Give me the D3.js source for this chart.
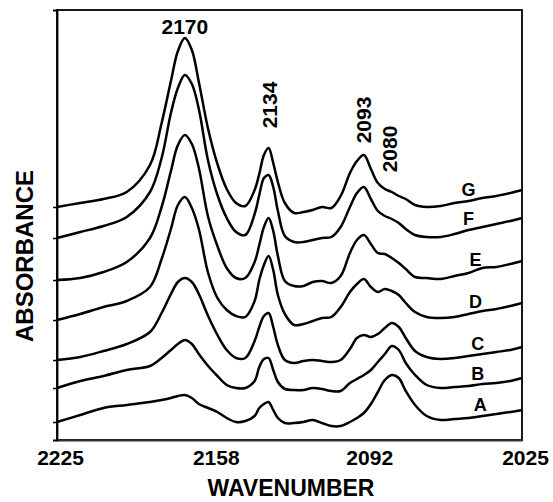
<!DOCTYPE html>
<html>
<head>
<meta charset="utf-8">
<script src="https://cdn.jsdelivr.net/npm/d3@7"></script>
<style>
  html, body { margin: 0; padding: 0; background: #fff; }
  svg { display: block; }
  text { font-family: "Liberation Sans", Arial, sans-serif; font-weight: bold; fill: #000; }
</style>
</head>
<body>
<svg id="chart" width="553" height="502"></svg>
<script>
// ---- data ----
const wavenumbers = [2225, 2215, 2205, 2195, 2185, 2180, 2176, 2173, 2170, 2167,
  2164, 2160, 2156, 2152, 2148, 2144, 2140, 2138, 2136, 2134,
  2132, 2130, 2127, 2123, 2119, 2115, 2111, 2107, 2103, 2099,
  2096, 2093, 2090, 2087, 2084, 2081, 2078, 2075, 2071, 2066,
  2060, 2054, 2048, 2042, 2036, 2030, 2025];

const seriesG = [2.33, 2.37, 2.41, 2.48, 2.75, 3.17, 3.59, 3.89, 4.02, 3.90,
  3.58, 3.11, 2.76, 2.51, 2.37, 2.34, 2.50, 2.66, 2.85, 2.92,
  2.77, 2.58, 2.37, 2.27, 2.28, 2.30, 2.33, 2.32, 2.44, 2.67,
  2.79, 2.85, 2.71, 2.57, 2.51, 2.48, 2.44, 2.41, 2.35, 2.33,
  2.34, 2.37, 2.39, 2.42, 2.44, 2.47, 2.50];
const seriesF = [2.02, 2.08, 2.14, 2.23, 2.48, 2.82, 3.27, 3.52, 3.65, 3.56,
  3.31, 2.79, 2.45, 2.22, 2.08, 2.05, 2.26, 2.45, 2.62, 2.65,
  2.53, 2.29, 2.04, 1.98, 1.98, 2.00, 2.02, 2.03, 2.13, 2.33,
  2.47, 2.53, 2.41, 2.29, 2.24, 2.21, 2.17, 2.11, 2.05, 2.03,
  2.03, 2.06, 2.10, 2.13, 2.16, 2.19, 2.22];
const seriesE = [1.60, 1.62, 1.68, 1.78, 2.02, 2.33, 2.69, 2.95, 3.05, 2.96,
  2.72, 2.23, 1.94, 1.72, 1.62, 1.62, 1.78, 1.95, 2.13, 2.22,
  2.09, 1.84, 1.59, 1.54, 1.54, 1.58, 1.59, 1.57, 1.64, 1.87,
  2.00, 2.05, 1.96, 1.87, 1.86, 1.82, 1.77, 1.71, 1.63, 1.62,
  1.61, 1.64, 1.67, 1.72, 1.73, 1.76, 1.79];
const seriesD = [1.20, 1.26, 1.33, 1.39, 1.53, 1.81, 2.11, 2.35, 2.43, 2.32,
  2.11, 1.67, 1.42, 1.30, 1.24, 1.23, 1.39, 1.60, 1.75, 1.84,
  1.70, 1.45, 1.26, 1.15, 1.16, 1.19, 1.22, 1.23, 1.33, 1.48,
  1.56, 1.61, 1.53, 1.48, 1.51, 1.49, 1.45, 1.37, 1.28, 1.23,
  1.22, 1.23, 1.26, 1.29, 1.31, 1.34, 1.37];
const seriesC = [0.80, 0.83, 0.89, 0.96, 1.08, 1.27, 1.46, 1.58, 1.62, 1.58,
  1.46, 1.24, 1.05, 0.90, 0.82, 0.82, 0.99, 1.13, 1.24, 1.27,
  1.13, 0.95, 0.80, 0.77, 0.79, 0.80, 0.79, 0.78, 0.80, 0.91,
  1.02, 1.05, 1.03, 1.06, 1.12, 1.17, 1.13, 1.02, 0.89, 0.83,
  0.81, 0.82, 0.84, 0.86, 0.88, 0.90, 0.93];
const seriesB = [0.52, 0.59, 0.64, 0.70, 0.74, 0.82, 0.90, 0.96, 1.00, 0.96,
  0.86, 0.74, 0.64, 0.55, 0.52, 0.52, 0.59, 0.73, 0.81, 0.82,
  0.70, 0.58, 0.51, 0.50, 0.50, 0.52, 0.51, 0.49, 0.49, 0.57,
  0.61, 0.65, 0.70, 0.78, 0.86, 0.94, 0.90, 0.77, 0.65, 0.55,
  0.52, 0.53, 0.54, 0.56, 0.57, 0.59, 0.62];
const seriesA = [0.18, 0.25, 0.32, 0.35, 0.38, 0.40, 0.42, 0.44, 0.45, 0.42,
  0.36, 0.32, 0.28, 0.22, 0.18, 0.19, 0.24, 0.32, 0.36, 0.38,
  0.30, 0.22, 0.17, 0.17, 0.18, 0.20, 0.17, 0.14, 0.14, 0.18,
  0.22, 0.27, 0.36, 0.48, 0.60, 0.65, 0.62, 0.49, 0.35, 0.24,
  0.20, 0.21, 0.22, 0.24, 0.26, 0.28, 0.30];

const seriesNames = ["A", "B", "C", "D", "E", "F", "G"];
const seriesValues = [seriesA, seriesB, seriesC, seriesD, seriesE, seriesF, seriesG];
const labelWavenumbers = [2043, 2044, 2044, 2045, 2045, 2048, 2048];

const xTicks = [2225, 2158, 2092, 2025];
const peakLabels = ["2170", "2134", "2093", "2080"];
const peakWavenumbers = [2170, 2134, 2093, 2081];

// ---- layout ----
(function () {
const svg = d3.select("#chart");
const mLeft = 57, mRight = 522, mTop = 10, mBottom = 440;

const x = d3.scaleLinear().domain([2225, 2025]).range([mLeft, mRight]);
const y = d3.scaleLinear().domain([0, 4.3]).range([mBottom, mTop]);

// frame
svg.append("rect")
  .attr("x", mLeft).attr("y", mTop)
  .attr("width", mRight - mLeft).attr("height", mBottom - mTop)
  .attr("fill", "none").attr("stroke", "#000").attr("stroke-width", 1.8);

// bottom axis
const xAxis = d3.axisBottom(x).tickValues(xTicks).tickFormat(d3.format("d"))
  .tickSize(0).tickPadding(10);
const gx = svg.append("g").attr("transform", `translate(0,${mBottom})`).call(xAxis);
gx.select(".domain").attr("stroke", "#333").attr("stroke-width", 2.2);
gx.selectAll("text").attr("font-size", 21).attr("dx", 3)
  .style("font-family", '"Liberation Sans", Arial, sans-serif').style("font-weight", "bold");

// left axis with small ticks at each curve start
const yAxis = d3.axisLeft(y).tickValues(seriesValues.map(s => s[0])).tickSize(4).tickFormat("");
const gy = svg.append("g").attr("transform", `translate(${mLeft},0)`).call(yAxis);
gy.select(".domain").attr("stroke", "#000").attr("stroke-width", 1.8);
gy.selectAll(".tick line").attr("stroke-width", 1.5);

// curves
const line = d3.line()
  .x((d, i) => x(wavenumbers[i]))
  .y(d => y(d))
  .curve(d3.curveCatmullRom.alpha(0.5));

svg.append("g").selectAll("path")
  .data(seriesValues)
  .join("path")
  .attr("d", d => line(d))
  .attr("fill", "none")
  .attr("stroke", "#000")
  .attr("stroke-width", 2.5)
  .attr("stroke-linejoin", "round");

// series labels
const valueAt = (wn, s) => {
  const i = wavenumbers.findIndex(w => w <= wn);
  const w0 = wavenumbers[i - 1], w1 = wavenumbers[i];
  const t = (w0 - wn) / (w0 - w1);
  return s[i - 1] + t * (s[i] - s[i - 1]);
};
svg.append("g").selectAll("text")
  .data(seriesNames)
  .join("text")
  .attr("x", (d, i) => x(labelWavenumbers[i]))
  .attr("y", (d, i) => y(valueAt(labelWavenumbers[i], seriesValues[i])) - 5)
  .attr("text-anchor", "middle")
  .attr("font-size", 18)
  .text(d => d);

// peak labels
svg.append("text")
  .attr("x", x(peakWavenumbers[0])).attr("y", 34)
  .attr("text-anchor", "middle").attr("font-size", 21)
  .text(peakLabels[0]);
const rotY = [105, 120, 149];
const rotDx = [8, 7, 5];
for (let k = 1; k < 4; k++) {
  svg.append("text")
    .attr("transform", `translate(${x(peakWavenumbers[k]) + rotDx[k - 1]},${rotY[k - 1]}) rotate(-90)`)
    .attr("text-anchor", "middle").attr("font-size", 21)
    .text(peakLabels[k]);
}

// axis titles
svg.append("text")
  .attr("x", 291).attr("y", 496)
  .attr("text-anchor", "middle").attr("font-size", 23)
  .text("WAVENUMBER");
svg.append("text")
  .attr("transform", "translate(33,256) rotate(-90)")
  .attr("text-anchor", "middle").attr("font-size", 24)
  .text("ABSORBANCE");
})();
</script>
</body>
</html>
